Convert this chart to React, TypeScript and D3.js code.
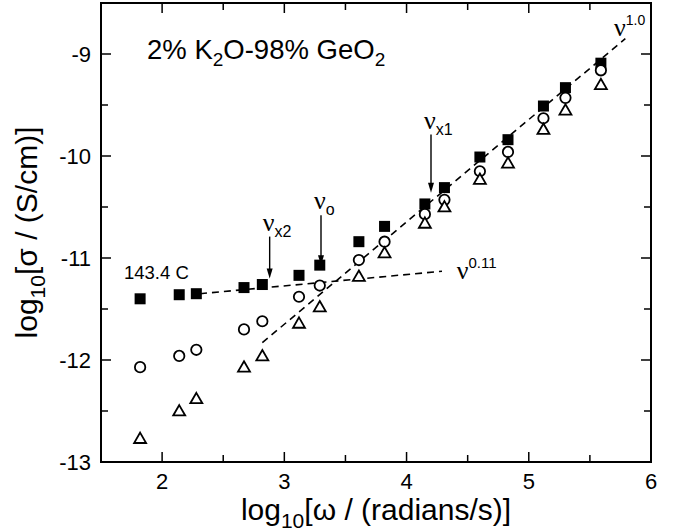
import React from "react";
import * as d3 from "d3";

// ---- data ----
const logOmega = [1.82, 2.14, 2.28, 2.67, 2.82, 3.12, 3.29, 3.61, 3.82, 4.15, 4.31, 4.60, 4.83, 5.12, 5.30, 5.59];
const sigmaSquares = [-11.40, -11.36, -11.35, -11.29, -11.26, -11.17, -11.07, -10.84, -10.69, -10.47, -10.31, -10.01, -9.84, -9.51, -9.33, -9.09];
const sigmaCircles = [-12.07, -11.96, -11.90, -11.70, -11.62, -11.38, -11.27, -11.02, -10.84, -10.57, -10.43, -10.15, -9.96, -9.63, -9.43, -9.16];
const sigmaTriangles = [-12.77, -12.50, -12.38, -12.07, -11.96, -11.64, -11.48, -11.18, -10.95, -10.66, -10.50, -10.23, -10.07, -9.74, -9.55, -9.30];

const fitSlope1: [number, number][] = [[2.82, -11.83], [5.79, -8.85]];
const fitSlope011: [number, number][] = [[2.31, -11.35], [4.29, -11.13]];

const arrowX = [2.88, 3.30, 4.20];
const arrowTop = [-10.79, -10.58, -9.79];
const arrowTip = [-11.20, -11.07, -10.36];
const arrowSub = ["x2", "o", "x1"];

const xTicks = [2, 3, 4, 5, 6];
const yTicks = [-13, -12, -11, -10, -9];
const xMinor = [1.5, 2.5, 3.5, 4.5, 5.5];
const yMinor = [-12.5, -11.5, -10.5, -9.5, -8.5];

const W = 678, H = 531;
const L = 101, R = 651, T = 3, B = 462;
const FONT = "'Liberation Sans', Arial, Helvetica, sans-serif";
const SERIF = "'Liberation Serif', 'Times New Roman', serif";

export default function App() {
  const x = d3.scaleLinear().domain([1.5, 6]).range([L, R]);
  const y = d3.scaleLinear().domain([-13, -8.5]).range([B, T]);
  const line = d3.line<[number, number]>().x(d => x(d[0])).y(d => y(d[1]));
  const sq = 11;
  const tri = d3.symbol().type(d3.symbolTriangle).size(62)();

  return (
    <svg width={W} height={H} style={{ position: "absolute", left: 0, top: 0, background: "#fff" }}
      fontFamily={FONT}>
      <rect x={0} y={0} width={W} height={H} fill="#fff" />
      {/* ticks */}
      {xTicks.map(t => (
        <g key={"xt" + t}>
          <line x1={x(t)} x2={x(t)} y1={B} y2={B - 10} stroke="#000" strokeWidth={1.5} />
          <line x1={x(t)} x2={x(t)} y1={T} y2={T + 10} stroke="#000" strokeWidth={1.5} />
          <text x={x(t)} y={B + 27} fontSize={22} textAnchor="middle">{t}</text>
        </g>
      ))}
      {xMinor.map(t => (
        <g key={"xm" + t}>
          <line x1={x(t)} x2={x(t)} y1={B} y2={B - 7} stroke="#000" strokeWidth={1.5} />
          <line x1={x(t)} x2={x(t)} y1={T} y2={T + 7} stroke="#000" strokeWidth={1.5} />
        </g>
      ))}
      {yTicks.map(t => (
        <g key={"yt" + t}>
          <line x1={L} x2={L + 10} y1={y(t)} y2={y(t)} stroke="#000" strokeWidth={1.5} />
          <line x1={R} x2={R - 10} y1={y(t)} y2={y(t)} stroke="#000" strokeWidth={1.5} />
          <text x={L - 10} y={y(t) + 8} fontSize={22} textAnchor="end">{t}</text>
        </g>
      ))}
      {yMinor.map(t => (
        <g key={"ym" + t}>
          <line x1={L} x2={L + 7} y1={y(t)} y2={y(t)} stroke="#000" strokeWidth={1.5} />
          <line x1={R} x2={R - 7} y1={y(t)} y2={y(t)} stroke="#000" strokeWidth={1.5} />
        </g>
      ))}
      <rect x={L} y={T} width={R - L} height={B - T} fill="none" stroke="#000" strokeWidth={2} />

      {/* fit lines */}
      <path d={line(fitSlope1) || ""} fill="none" stroke="#000" strokeWidth={1.6} strokeDasharray="7,5" />
      <path d={line(fitSlope011) || ""} fill="none" stroke="#000" strokeWidth={1.6} strokeDasharray="7,5" />

      {/* markers */}
      {logOmega.map((v, i) => (
        <rect key={"s" + i} x={x(v) - sq / 2} y={y(sigmaSquares[i]) - sq / 2} width={sq} height={sq} fill="#000" />
      ))}
      {logOmega.map((v, i) => (
        <circle key={"c" + i} cx={x(v)} cy={y(sigmaCircles[i])} r={5.2} fill="#fff" stroke="#000" strokeWidth={1.8} />
      ))}
      {logOmega.map((v, i) => (
        <path key={"t" + i} d={tri || ""} transform={`translate(${x(v)},${y(sigmaTriangles[i]) + 1})`}
          fill="#fff" stroke="#000" strokeWidth={1.8} />
      ))}

      {/* arrows */}
      {arrowX.map((v, i) => {
        const xp = x(v), yt = y(arrowTop[i]), yb = y(arrowTip[i]);
        return (
          <g key={"a" + i}>
            <line x1={xp} x2={xp} y1={yt} y2={yb - 8} stroke="#000" strokeWidth={1.4} />
            <path d={`M${xp - 3},${yb - 10}L${xp + 3},${yb - 10}L${xp},${yb}Z`} fill="#000" />
            <text x={xp - 7} y={yt - 6} fontSize={26} fontFamily={SERIF}>ν
              <tspan fontSize={16} fontFamily={FONT} dy={6}>{arrowSub[i]}</tspan>
            </text>
          </g>
        );
      })}

      {/* power-law labels */}
      <text x={x(4.41)} y={y(-11.1) + 11} fontSize={26} fontFamily={SERIF}>ν
        <tspan fontSize={15} fontFamily={FONT} dy={-11}>0.11</tspan>
      </text>
      <text x={614} y={36} fontSize={26} fontFamily={SERIF}>ν
        <tspan fontSize={14} fontFamily={FONT} dy={-11}>1.0</tspan>
      </text>

      <text x={124} y={279} fontSize={18.5}>143.4 C</text>

      <text x={147} y={59} fontSize={27.5}>2% K<tspan fontSize={19} dy={7}>2</tspan>
        <tspan dy={-7}>O-98% GeO</tspan><tspan fontSize={19} dy={7}>2</tspan>
      </text>

      {/* axis titles */}
      <text x={376} y={520} fontSize={30} textAnchor="middle">log<tspan fontSize={21} dy={8}>10</tspan>
        <tspan dy={-8}>[ω / (radians/s)]</tspan>
      </text>
      <text transform={`translate(37,${(T + B) / 2}) rotate(-90)`} fontSize={30} textAnchor="middle">log<tspan fontSize={21} dy={8}>10</tspan>
        <tspan dy={-8}>[σ / (S/cm)]</tspan>
      </text>
    </svg>
  );
}
